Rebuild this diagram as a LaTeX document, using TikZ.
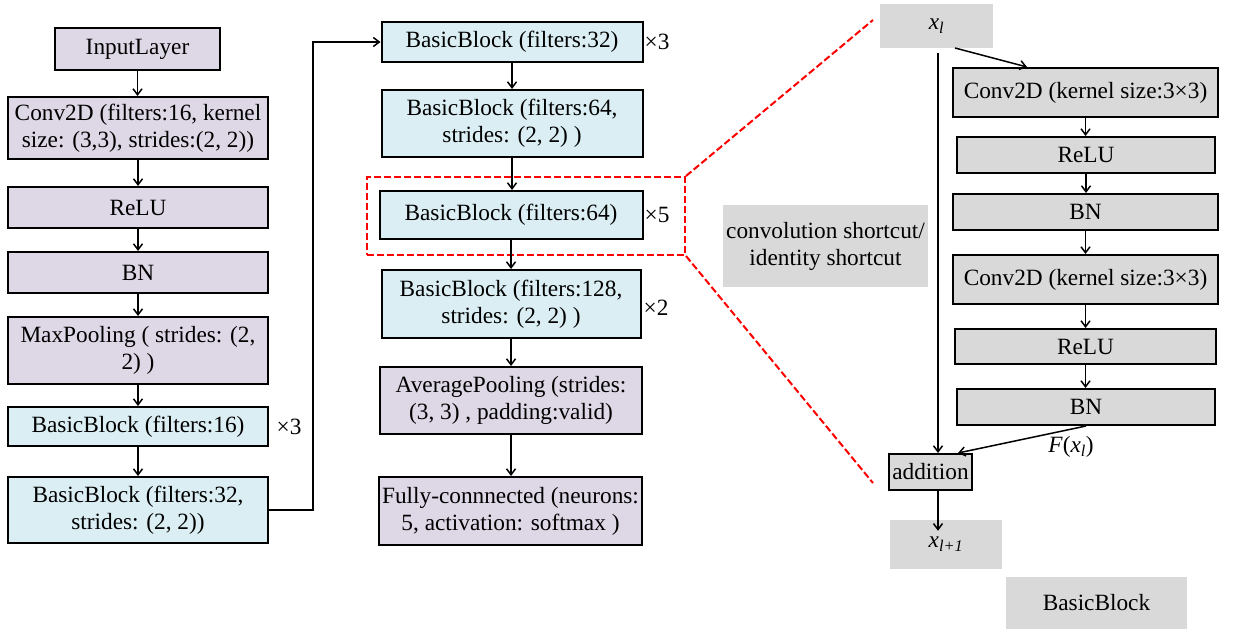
\documentclass[tikz,border=0pt]{standalone}
\usepackage{fontspec}
\setmainfont{Liberation Serif}
\usetikzlibrary{arrows.meta,calc}
\definecolor{lav}{RGB}{222,215,230}
\definecolor{aqua}{RGB}{218,238,243}
\definecolor{gry}{RGB}{217,217,217}
\tikzset{
  pbox/.style={draw=black, line width=2pt, fill=lav, align=center, inner sep=0pt},
  bbox/.style={draw=black, line width=2pt, fill=aqua, align=center, inner sep=0pt},
  gbox/.style={draw=black, line width=2pt, fill=gry, align=center, inner sep=0pt},
  glabel/.style={fill=gry, align=center, inner sep=0pt},
  arr/.style={-{Straight Barb[length=6pt,width=9pt]}, line width=1.5pt},
  rep/.style={inner sep=0pt},
  hl/.style={draw=red, dash pattern=on 7pt off 3pt, line width=2pt},
}
\begin{document}
\begin{tikzpicture}[x=1pt,y=-1pt,font=\fontsize{23.3}{27}\selectfont]
\useasboundingbox (0,0) rectangle (1257,631);
% left column
\node[pbox,minimum width=165pt,minimum height=42pt] (inp) at (137.5,49) {InputLayer};
\node[pbox,minimum width=260pt,minimum height=62pt] (conv) at (138,128) {Conv2D (filters:16, kernel\\size: (3,3), strides:(2, 2))};
\node[pbox,minimum width=260pt,minimum height=41pt] (relu) at (138,207.5) {ReLU};
\node[pbox,minimum width=260pt,minimum height=41pt] (bn) at (138,272.5) {BN};
\node[pbox,minimum width=260pt,minimum height=67pt] (maxp) at (138,350.5) {MaxPooling ( strides: (2,\\2) )};
\node[bbox,minimum width=260pt,minimum height=39pt] (bb16) at (138,426.5) {BasicBlock (filters:16)};
\node[bbox,minimum width=260pt,minimum height=66pt] (bb32s) at (138,510) {BasicBlock (filters:32,\\strides: (2, 2))};
\node[rep] (r1) at (289,427) {×3};
% middle column
\node[bbox,minimum width=261pt,minimum height=40pt] (bb32) at (512,42) {BasicBlock (filters:32)};
\node[bbox,minimum width=261pt,minimum height=67pt] (bb64s) at (512,123.5) {BasicBlock (filters:64,\\strides: (2, 2) )};
\node[bbox,minimum width=263pt,minimum height=48pt] (bb64) at (511,215) {BasicBlock (filters:64)};
\node[bbox,minimum width=259pt,minimum height=68pt] (bb128) at (511,304) {BasicBlock (filters:128,\\strides: (2, 2) )};
\node[pbox,minimum width=262pt,minimum height=67pt] (avgp) at (511,400.5) {AveragePooling (strides:\\(3, 3) , padding:valid)};
\node[pbox,minimum width=263pt,minimum height=68pt] (fc) at (510.5,511) {Fully-connnected (neurons:\\5, activation: softmax )};
\node[rep] (r2) at (657,42) {×3};
\node[rep] (r3) at (657,215) {×5};
\node[rep] (r4) at (656,308) {×2};
\node[hl,minimum width=318pt,minimum height=78pt] (hlb) at (526,216) {};
% right part
\node[glabel,minimum width=113pt,minimum height=44pt] (xl) at (936.5,26) {\textit{x}\textsubscript{\textit{l}}};
\node[gbox,minimum width=265pt,minimum height=49pt] (rc1) at (1085.5,92.5) {Conv2D (kernel size:3×3)};
\node[gbox,minimum width=258pt,minimum height=36pt] (rr1) at (1086,155) {ReLU};
\node[gbox,minimum width=265pt,minimum height=36pt] (rb1) at (1085.5,212) {BN};
\node[gbox,minimum width=265pt,minimum height=49pt] (rc2) at (1085.5,279.5) {Conv2D (kernel size:3×3)};
\node[gbox,minimum width=261pt,minimum height=35pt] (rr2) at (1085.5,346.5) {ReLU};
\node[gbox,minimum width=258pt,minimum height=36pt] (rb2) at (1086,407) {BN};
\node[gbox,minimum width=83pt,minimum height=36pt] (add) at (930.5,472) {addition};
\node[glabel,minimum width=112pt,minimum height=49pt] (xl1) at (946,544.5) {\textit{x}\textsubscript{\textit{l+1}}};
\node[glabel,minimum width=181pt,minimum height=52pt] (bbl) at (1096.5,603) {BasicBlock};
\node[glabel,minimum width=205pt,minimum height=82pt] (cs) at (825.5,246) {convolution shortcut/\\identity shortcut};
\node[rep] (fx) at (1071,447) {\textit{F}(\textit{x}\textsubscript{\textit{l}})};
% connectors left
\draw[arr] (inp.south) -- (inp.south |- conv.north);
\draw[arr] (conv.south) -- (conv.south |- relu.north);
\draw[arr] (relu.south) -- (relu.south |- bn.north);
\draw[arr] (bn.south) -- (bn.south |- maxp.north);
\draw[arr] (maxp.south) -- (maxp.south |- bb16.north);
\draw[arr] (bb16.south) -- (bb16.south |- bb32s.north);
\draw[arr] (bb32s.east) -- ++(44,0) |- (bb32.west);
% connectors middle
\draw[arr] (bb32.south) -- (bb32.south |- bb64s.north);
\draw[arr] (bb64s.south) -- (bb64s.south |- bb64.north);
\draw[arr] (bb64.south) -- (bb64.south |- bb128.north);
\draw[arr] (bb128.south) -- (bb128.south |- avgp.north);
\draw[arr] (avgp.south) -- (avgp.south |- fc.north);
% connectors right
\coordinate (s0) at (938,53);
\coordinate (a0) at (955,48);
\draw[arr] (s0) -- (s0 |- add.north);
\draw[arr] (a0) -- ($(rc1.north west)+(75,0)$);
\draw[arr] (rc1.south) -- (rc1.south |- rr1.north);
\draw[arr] (rr1.south) -- (rr1.south |- rb1.north);
\draw[arr] (rb1.south) -- (rb1.south |- rc2.north);
\draw[arr] (rc2.south) -- (rc2.south |- rr2.north);
\draw[arr] (rr2.south) -- (rr2.south |- rb2.north);
\draw[arr] (rb2.south) -- ($(add.north east)+(-15,0)$);
\draw[arr] (add.south -| s0) -- ($(xl1.north -| s0)+(0,11)$);
% zoom lines
\coordinate (t1) at (873,20);
\coordinate (t2) at (873,483);
\draw[hl] (hlb.north east) -- (t1);
\draw[hl] (hlb.south east) -- (t2);
\end{tikzpicture}
\end{document}
